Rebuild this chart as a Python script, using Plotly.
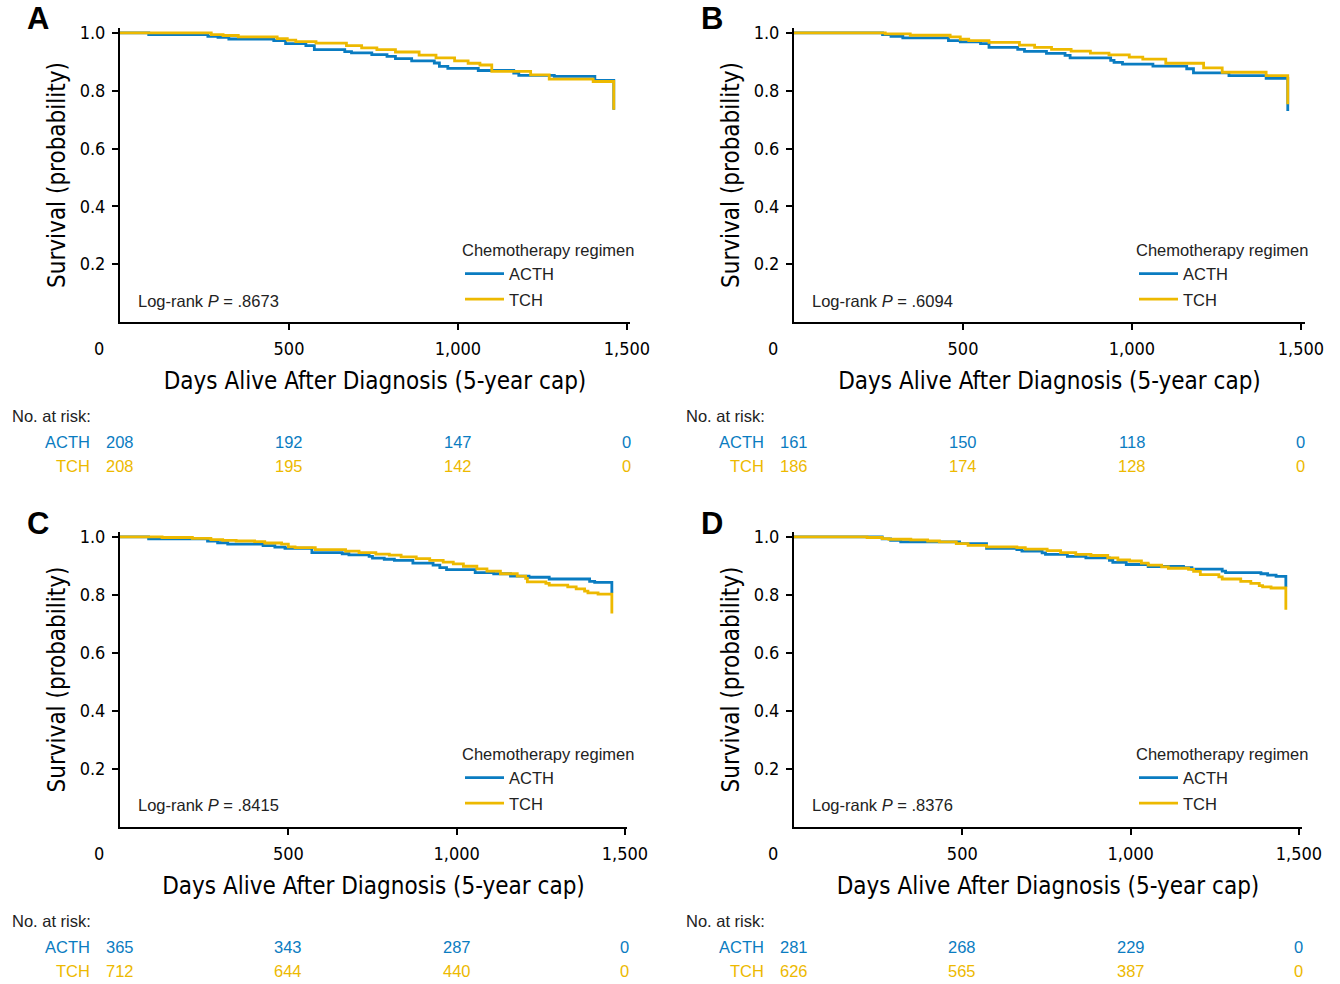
import plotly.graph_objects as go

# ---------------- data ----------------
panel_ids = ["A", "B", "C", "D"]
groups = ["ACTH", "TCH"]

A_ACTH_t = [0, 85, 260, 290, 322, 455, 490, 550, 575, 665, 685, 745, 790, 815, 863, 930, 945, 970, 1060, 1165, 1180, 1285, 1405, 1461]
A_ACTH_s = [1.0, 0.994, 0.988, 0.985, 0.979, 0.973, 0.963, 0.956, 0.942, 0.935, 0.931, 0.925, 0.919, 0.911, 0.903, 0.896, 0.884, 0.877, 0.870, 0.861, 0.853, 0.850, 0.836, 0.734]
A_TCH_t = [0, 270, 305, 350, 465, 495, 520, 580, 670, 715, 760, 815, 885, 935, 990, 1030, 1065, 1100, 1215, 1270, 1400, 1461]
A_TCH_s = [1.0, 0.994, 0.991, 0.986, 0.980, 0.975, 0.970, 0.965, 0.956, 0.948, 0.942, 0.934, 0.923, 0.914, 0.903, 0.895, 0.889, 0.867, 0.855, 0.840, 0.832, 0.734]

B_ACTH_t = [0, 262, 287, 322, 457, 492, 552, 577, 662, 682, 747, 802, 817, 937, 947, 972, 1062, 1162, 1182, 1287, 1397, 1461]
B_ACTH_s = [1.0, 0.994, 0.988, 0.983, 0.973, 0.969, 0.963, 0.950, 0.943, 0.936, 0.929, 0.922, 0.914, 0.905, 0.898, 0.892, 0.885, 0.876, 0.862, 0.852, 0.843, 0.730]
B_TCH_t = [0, 270, 344, 462, 492, 517, 577, 667, 712, 762, 820, 877, 932, 992, 1032, 1100, 1212, 1267, 1397, 1461]
B_TCH_s = [1.0, 0.997, 0.992, 0.986, 0.978, 0.973, 0.967, 0.958, 0.950, 0.943, 0.937, 0.930, 0.924, 0.916, 0.909, 0.895, 0.879, 0.864, 0.852, 0.753]

C_ACTH_t = [0, 85, 260, 290, 320, 425, 460, 490, 570, 660, 680, 740, 750, 785, 815, 870, 930, 950, 970, 1055, 1110, 1160, 1215, 1275, 1395, 1410, 1461]
C_ACTH_s = [1.0, 0.993, 0.986, 0.980, 0.975, 0.970, 0.965, 0.961, 0.946, 0.942, 0.938, 0.933, 0.927, 0.923, 0.919, 0.910, 0.903, 0.894, 0.887, 0.877, 0.873, 0.865, 0.861, 0.855, 0.847, 0.843, 0.807]
C_TCH_t = [0, 125, 215, 270, 305, 345, 400, 430, 480, 500, 520, 580, 670, 710, 760, 800, 835, 880, 920, 960, 990, 1020, 1060, 1090, 1130, 1180, 1205, 1210, 1265, 1275, 1330, 1355, 1380, 1390, 1420, 1461]
C_TCH_s = [1.0, 0.998, 0.995, 0.991, 0.988, 0.986, 0.984, 0.979, 0.975, 0.966, 0.963, 0.956, 0.951, 0.946, 0.941, 0.937, 0.931, 0.925, 0.919, 0.913, 0.907, 0.899, 0.890, 0.882, 0.873, 0.865, 0.857, 0.845, 0.840, 0.834, 0.828, 0.821, 0.813, 0.807, 0.803, 0.736]

D_ACTH_t = [0, 262, 287, 317, 492, 572, 662, 677, 737, 747, 812, 867, 937, 947, 987, 1052, 1157, 1182, 1272, 1282, 1387, 1407, 1432, 1461]
D_ACTH_s = [1.0, 0.993, 0.988, 0.983, 0.977, 0.961, 0.956, 0.951, 0.945, 0.940, 0.933, 0.928, 0.919, 0.912, 0.905, 0.898, 0.894, 0.889, 0.882, 0.877, 0.873, 0.868, 0.864, 0.827]
D_TCH_t = [0, 217, 262, 282, 347, 397, 432, 482, 517, 572, 662, 687, 752, 792, 837, 882, 932, 962, 997, 1032, 1052, 1092, 1112, 1172, 1187, 1207, 1262, 1272, 1327, 1357, 1382, 1392, 1417, 1461]
D_TCH_s = [1.0, 0.998, 0.994, 0.992, 0.990, 0.986, 0.983, 0.977, 0.971, 0.966, 0.963, 0.958, 0.953, 0.946, 0.940, 0.936, 0.928, 0.921, 0.917, 0.910, 0.903, 0.897, 0.892, 0.888, 0.881, 0.870, 0.862, 0.855, 0.847, 0.840, 0.832, 0.828, 0.824, 0.749]

risk_times = [0, 500, 1000, 1500]
A_risk_ACTH = [208, 192, 147, 0]
A_risk_TCH = [208, 195, 142, 0]
B_risk_ACTH = [161, 150, 118, 0]
B_risk_TCH = [186, 174, 128, 0]
C_risk_ACTH = [365, 343, 287, 0]
C_risk_TCH = [712, 644, 440, 0]
D_risk_ACTH = [281, 268, 229, 0]
D_risk_TCH = [626, 565, 387, 0]

p_values = [".8673", ".6094", ".8415", ".8376"]

x_ticks = [500, 1000, 1500]
x_ticktext = ["500", "1,000", "1,500"]
y_ticks = [0.2, 0.4, 0.6, 0.8, 1.0]
y_ticktext = ["0.2", "0.4", "0.6", "0.8", "1.0"]

x_title = "Days Alive After Diagnosis (5-year cap)"
y_title = "Survival (probability)"
legend_title = "Chemotherapy regimen"

curves = {
    "A": [(A_ACTH_t, A_ACTH_s), (A_TCH_t, A_TCH_s)],
    "B": [(B_ACTH_t, B_ACTH_s), (B_TCH_t, B_TCH_s)],
    "C": [(C_ACTH_t, C_ACTH_s), (C_TCH_t, C_TCH_s)],
    "D": [(D_ACTH_t, D_ACTH_s), (D_TCH_t, D_TCH_s)],
}
risks = {
    "A": [A_risk_ACTH, A_risk_TCH],
    "B": [B_risk_ACTH, B_risk_TCH],
    "C": [C_risk_ACTH, C_risk_TCH],
    "D": [D_risk_ACTH, D_risk_TCH],
}

# ---------------- style / layout ----------------
W, H = 1340, 984
COLORS = ["#0A7CC1", "#EDB900"]
COND = "Liberation Sans Narrow, Arial Narrow, DejaVu Sans Condensed, sans-serif"
REG = "Liberation Sans, Arial, Helvetica, sans-serif"
FS = 16.5

# plot boxes in pixels: left, right, top, bottom ; x max of axis
boxes = {
    "A": (120, 630, 28, 322, 1509),
    "B": (794, 1305, 28, 322, 1512),
    "C": (120, 627, 532, 827, 1506),
    "D": (794, 1302, 532, 827, 1509),
}


def px(x):
    return x / W


def py(y):
    return 1 - y / H


fig = go.Figure()
annotations = []
layout = {}

for i, pid in enumerate(panel_ids):
    L, R, T, B, xmax = boxes[pid]
    sfx = "" if i == 0 else str(i + 1)
    xa, ya = "x" + sfx, "y" + sfx
    leg = "legend" + sfx

    for g, (t, s) in enumerate(curves[pid]):
        fig.add_trace(go.Scatter(
            x=t, y=s, mode="lines", line=dict(color=COLORS[g], width=2.8, shape="hv"),
            name=groups[g], xaxis=xa, yaxis=ya, legend=leg, legendgroup=pid + groups[g],
            hoverinfo="skip",
        ))

    layout["xaxis" + sfx] = dict(
        domain=[px(L), px(R)], range=[0, xmax], anchor=ya,
        showline=True, linecolor="black", linewidth=2, mirror=False,
        ticks="outside", ticklen=6, tickwidth=1.5, tickcolor="black",
        tickvals=x_ticks, ticktext=x_ticktext, ticklabelstandoff=3,
        tickfont=dict(family=COND, size=18, color="black"),
        showgrid=False, zeroline=False, automargin=False, fixedrange=True,
        title=dict(text=x_title, font=dict(family=COND, size=24, color="black"), standoff=15),
    )
    layout["yaxis" + sfx] = dict(
        domain=[py(B), py(T)], range=[0, 1.017], anchor=xa,
        showline=True, linecolor="black", linewidth=2,
        ticks="outside", ticklen=6, tickwidth=1.5, tickcolor="black",
        tickvals=y_ticks, ticktext=y_ticktext, ticklabelstandoff=3,
        tickfont=dict(family=COND, size=18, color="black"),
        showgrid=False, zeroline=False, automargin=False, fixedrange=True,
        title=dict(text=y_title, font=dict(family=COND, size=24, color="black"), standoff=7),
    )
    layout[leg] = dict(
        x=px(L + 340), y=py(T + 207), xanchor="left", yanchor="top",
        bgcolor="rgba(0,0,0,0)", borderwidth=0,
        title=dict(text=legend_title, font=dict(family=REG, size=FS, color="#222")),
        font=dict(family=REG, size=FS, color="#222"),
        tracegroupgap=1, itemwidth=39,
    )

    # panel letter
    annotations.append(dict(
        text="<b>%s</b>" % pid, x=px(L - 82), y=py(T - 9), xref="paper", yref="paper",
        showarrow=False, xanchor="center", yanchor="middle",
        font=dict(family=REG, size=31, color="black"),
    ))
    # "0" tick label (offset left of axis)
    annotations.append(dict(
        text="0", x=px(L - 21), y=py(B + 26), xref="paper", yref="paper",
        showarrow=False, xanchor="center", yanchor="middle",
        font=dict(family=COND, size=18, color="black"),
    ))
    # log-rank
    annotations.append(dict(
        text="Log-rank <i>P</i> = %s" % p_values[i], x=px(L + 16), y=py(T + 273),
        xref="paper", yref="paper", showarrow=False, xanchor="left", yanchor="middle",
        font=dict(family=REG, size=FS, color="#222"),
    ))
    # risk table
    annotations.append(dict(
        text="No. at risk:", x=px(L - 110), y=py(B + 94), xref="paper", yref="paper",
        showarrow=False, xanchor="left", yanchor="middle",
        font=dict(family=REG, size=FS, color="#222"),
    ))
    for g in range(2):
        yy = py(B + 120 + 24 * g)
        annotations.append(dict(
            text=groups[g], x=px(L - 28), y=yy, xref="paper", yref="paper",
            showarrow=False, xanchor="right", yanchor="middle",
            font=dict(family=REG, size=FS, color=COLORS[g]),
        ))
        for tv, n in zip(risk_times, risks[pid][g]):
            annotations.append(dict(
                text=str(n), x=tv, y=yy, xref=xa, yref="paper",
                showarrow=False, xanchor="center", yanchor="middle",
                font=dict(family=REG, size=FS, color=COLORS[g]),
            ))

fig.update_layout(
    width=W, height=H, margin=dict(l=0, r=0, t=0, b=0),
    paper_bgcolor="white", plot_bgcolor="white",
    annotations=annotations, **layout,
)

fig.write_html(
    "out.html",
    config={"displayModeBar": False, "staticPlot": False},
    post_script="document.body.style.margin='0px';document.documentElement.style.overflow='hidden';document.body.style.overflow='hidden';",
)
